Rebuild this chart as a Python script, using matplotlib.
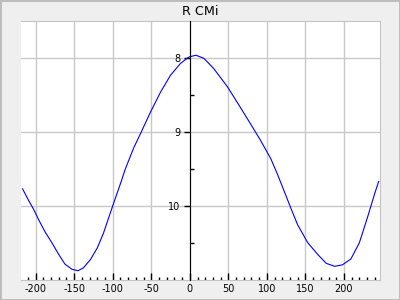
import matplotlib

matplotlib.use("Agg")
import matplotlib.pyplot as plt
from matplotlib.ticker import FixedLocator, MultipleLocator

# phase (days) and magnitude
PHASE = [-217, -209, -203, -196, -188, -179, -170, -162, -153, -145, -138,
         -129, -120, -112, -100, -89, -84, -73, -63, -51, -38, -25, -12,
         -2, 0, 8, 18, 31, 49, 64, 77, 91, 105, 114, 125, 131, 140, 153,
         166, 177, 188, 198, 209, 220, 231, 240, 245]
MAG = [9.77, 9.93, 10.04, 10.19, 10.35, 10.50, 10.66, 10.79, 10.86, 10.88,
       10.84, 10.73, 10.57, 10.37, 10.00, 9.67, 9.51, 9.22, 9.00, 8.73,
       8.46, 8.23, 8.07, 7.99, 7.98, 7.96, 8.00, 8.14, 8.39, 8.64, 8.86,
       9.10, 9.36, 9.58, 9.87, 10.03, 10.26, 10.50, 10.66, 10.78, 10.82,
       10.80, 10.72, 10.50, 10.14, 9.83, 9.67]

TITLE = "R CMi"
X_RANGE = (-219, 247)
Y_RANGE = (11.0, 7.5)  # magnitudes, inverted
Y_MAJOR = [8, 9, 10]
Y_MINOR = [8.5, 9.5, 10.5]

BG = "#efefef"
FRAME = "#c4c4c4"
GRID = "#c8c8c8"

plt.rcParams.update({
    "font.family": "DejaVu Sans",
    "axes.unicode_minus": False,
})

fig = plt.figure(figsize=(4, 3), dpi=100, facecolor=BG,
                 edgecolor="#bdbdbd", linewidth=1.0)
ax = fig.add_axes([0.0525, 0.068, 0.898, 0.861])
ax.set_facecolor("white")

ax.plot(PHASE, MAG, color="blue", lw=0.8, zorder=3)

ax.set_xlim(*X_RANGE)
ax.set_ylim(*Y_RANGE)

ax.xaxis.set_major_locator(MultipleLocator(50))
ax.xaxis.set_minor_locator(MultipleLocator(10))
ax.yaxis.set_major_locator(FixedLocator(Y_MAJOR))
ax.yaxis.set_minor_locator(FixedLocator(Y_MINOR))

ax.grid(True, which="major", color=GRID, lw=1.0, zorder=0)
ax.set_axisbelow(True)

for side in ("top", "right", "bottom"):
    ax.spines[side].set_color(FRAME)
ax.spines["left"].set_position(("data", 0))
ax.spines["left"].set_color("black")
ax.spines["left"].set_zorder(4)

ax.tick_params(axis="x", which="major", direction="in", length=5, width=1,
               color="black", labelsize=7, pad=3)
ax.tick_params(axis="x", which="minor", direction="in", length=2.5, width=1,
               color="black")
ax.tick_params(axis="y", which="major", direction="out", length=4, width=1,
               color="black", labelsize=7, pad=3)
ax.tick_params(axis="y", which="minor", direction="in", length=3, width=1,
               color="black")

ax.set_title(TITLE, fontsize=9.2, pad=4.5)

fig.savefig("out.png", dpi=100, facecolor=BG, edgecolor="#bdbdbd")
